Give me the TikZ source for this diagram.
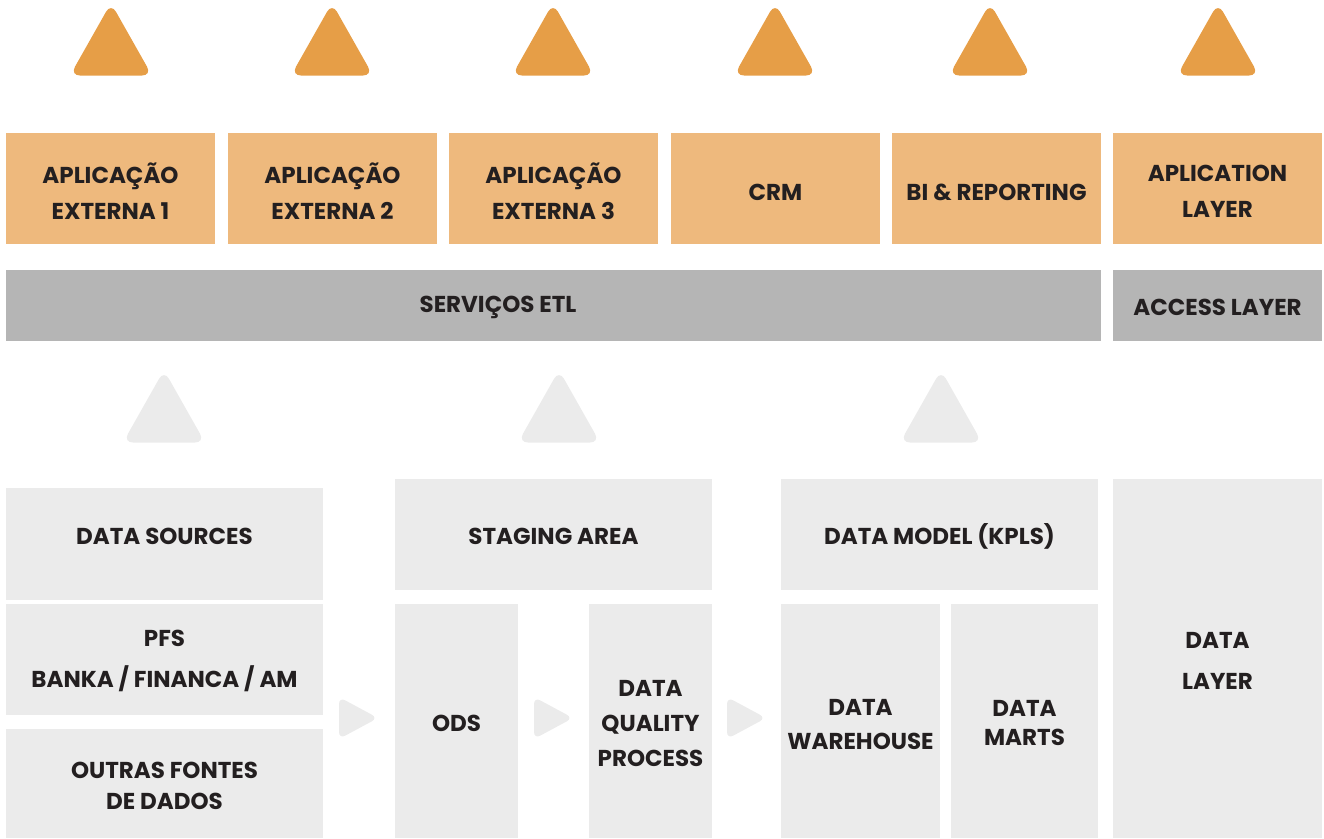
\documentclass[tikz,border=0pt]{standalone}
\usepackage{fontspec}
\setmainfont{Poppins}
\definecolor{tri}{HTML}{E69E47}
\definecolor{orbox}{HTML}{EEB97D}
\definecolor{gbar}{HTML}{B5B5B5}
\definecolor{lgray}{HTML}{EBEBEB}
\definecolor{ink}{HTML}{231F20}
\tikzset{
  txt/.style={inner sep=0pt, outer sep=0pt, text=ink, font=\bfseries\fontsize{23}{36}\selectfont, align=center},
}
\newcommand\myuptri[4]{\fill[#4,rounded corners=10pt] ({#1-41},#3) -- (#1,#2) -- ({#1+41},#3) -- cycle;}
\newcommand\myrttri[2]{\fill[lgray,rounded corners=7pt] (#1,{#2-21}) -- ({#1+39},#2) -- (#1,{#2+21}) -- cycle;}
\begin{document}
\begin{tikzpicture}[x=1pt,y=-1pt]
\useasboundingbox (0,0) rectangle (1324,838);
% top triangles
\foreach \cx in {111,332,553,775,990,1218}{\myuptri{\cx}{3}{75.5}{tri}}
% orange boxes
\fill[orbox] (6,133) rectangle (215,244);
\node[txt] (a1) at (110.5,191) {APLICAÇÃO\\EXTERNA 1};
\fill[orbox] (228,133) rectangle (437,244);
\node[txt] (a2) at (332.5,191) {APLICAÇÃO\\EXTERNA 2};
\fill[orbox] (449,133) rectangle (658,244);
\node[txt] (a3) at (553.5,191) {APLICAÇÃO\\EXTERNA 3};
\fill[orbox] (671,133) rectangle (880,244);
\node[txt] (crm) at (775.5,192) {CRM};
\fill[orbox] (892,133) rectangle (1101,244);
\node[txt] (bi) at (996.5,192) {BI \& REPORTING};
\fill[orbox] (1113,133) rectangle (1322,244);
\node[txt] (app) at (1217.5,191) {APLICATION\\LAYER};
% gray bar
\fill[gbar] (6,270) rectangle (1101,341);
\node[txt] (etl) at (498,307) {SERVIÇOS ETL};
\fill[gbar] (1113,270) rectangle (1322,341);
\node[txt] (acc) at (1217.5,307) {ACCESS LAYER};
% light triangles
\foreach \cx in {164,559,941}{\myuptri{\cx}{370}{442.5}{lgray}}
% bottom boxes
\fill[lgray] (6,488) rectangle (323,600);
\node[txt] (ds) at (164.5,536.5) {DATA SOURCES};
\fill[lgray] (6,604) rectangle (323,715);
\node[txt, font=\bfseries\fontsize{23}{41}\selectfont] (pfs) at (164.5,661) {PFS\\BANKA / FINANCA / AM};
\fill[lgray] (6,729) rectangle (323,838);
\node[txt, font=\bfseries\fontsize{23}{31}\selectfont] (out) at (164.5,786) {OUTRAS FONTES\\DE DADOS};
\fill[lgray] (395,479) rectangle (712,590);
\node[txt] (stg) at (553.5,536.5) {STAGING AREA};
\fill[lgray] (395,604) rectangle (518,838);
\node[txt] (ods) at (456.5,723.5) {ODS};
\fill[lgray] (589,604) rectangle (712,838);
\node[txt, font=\bfseries\fontsize{23}{35}\selectfont] (dq) at (650.5,723) {DATA\\QUALITY\\PROCESS};
\fill[lgray] (781,479) rectangle (1098,590);
\node[txt] (dm) at (939.5,536.5) {DATA MODEL (KPLS)};
\fill[lgray] (781,604) rectangle (940,838);
\node[txt, font=\bfseries\fontsize{23}{34}\selectfont] (dw) at (860.5,724) {DATA\\WAREHOUSE};
\fill[lgray] (951,604) rectangle (1098,838);
\node[txt, font=\bfseries\fontsize{23}{29}\selectfont] (dmarts) at (1024.5,723) {DATA\\MARTS};
\fill[lgray] (1113,479) rectangle (1322,838);
\node[txt, font=\bfseries\fontsize{23}{41}\selectfont] (dl) at (1217.5,661) {DATA\\LAYER};
% small right triangles
\myrttri{339}{718}
\myrttri{534}{718}
\myrttri{727}{718}
\end{tikzpicture}
\end{document}
